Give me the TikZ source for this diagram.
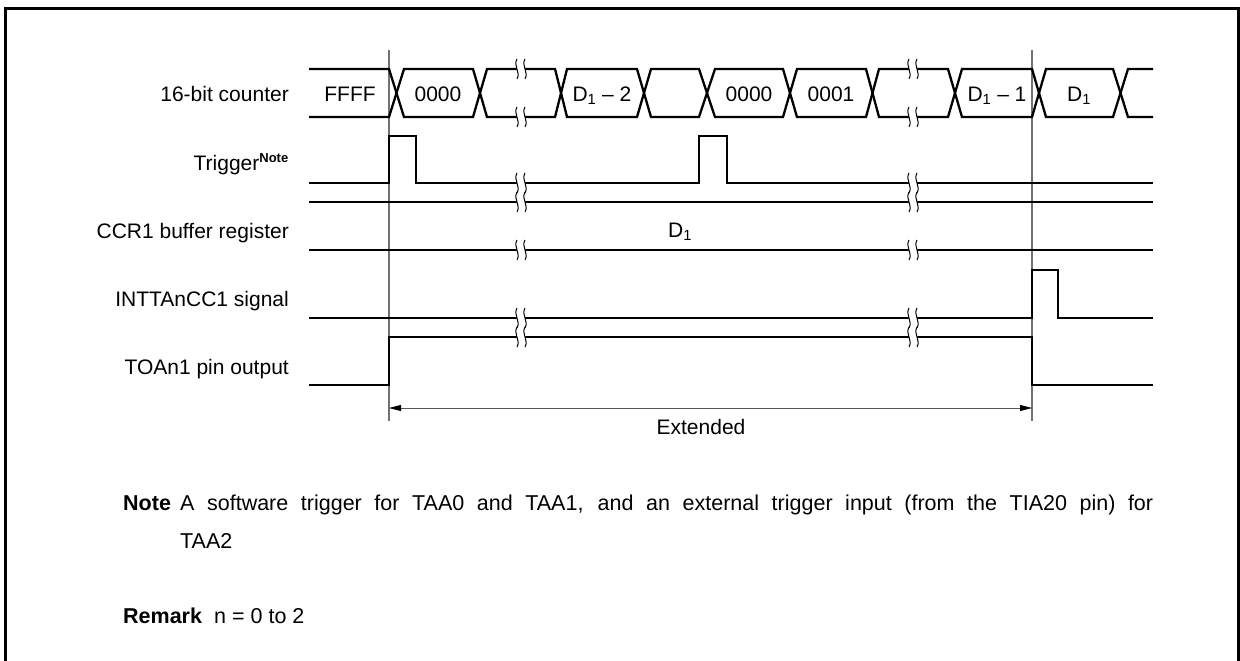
\documentclass[tikz,border=0pt]{standalone}
\usepackage{fontspec}
\setmainfont{Liberation Sans}
\usetikzlibrary{arrows.meta}
\tikzset{
  sig/.style={line width=2.3pt, line join=miter},
  guide/.style={draw=black!55, line width=1.1pt},
  lbl/.style={font=\fontsize{21}{25}\selectfont, inner sep=0pt},
  notetext/.style={font=\fontsize{21.5}{25}\selectfont, inner sep=0pt},
}
\newcommand\brkmark[2]{%
  \fill[white] (#1-4,#2-4) rectangle (#1+4,#2+4);
  \draw[line width=1pt] (#1-4,#2-10) .. controls (#1-8,#2-3) and (#1,#2+3) .. (#1-4,#2+10);
  \draw[line width=1pt] (#1+4,#2-10) .. controls (#1,#2-3) and (#1+8,#2+3) .. (#1+4,#2+10);
}
\begin{document}
\begin{tikzpicture}[x=1pt,y=1pt,yscale=-1]
        \useasboundingbox (0,0) rectangle (1240,661);
        \draw[line width=3pt] (5,661) -- (5,9) -- (1238,9) -- (1238,661);
        \coordinate (gA) at (389,50);
        \coordinate (gB) at (1032,50);
        \coordinate (gAe) at (389,421);
        \coordinate (gBe) at (1032,421);
        \draw[guide] (gA) -- (gAe);
        \draw[guide] (gB) -- (gBe);
        % 16-bit counter
        \draw[sig] (309,69) -- (389,69) -- (404,117) -- (473,117) -- (487,69) -- (555,69) -- (567,117) -- (637,117) -- (651,69) -- (699,69) -- (715,117) -- (783,117) -- (797,69) -- (866,69) -- (879,117) -- (948,117) -- (962,69) -- (1032,69) -- (1046,117) -- (1113,117) -- (1128,69) -- (1153,69);
        \draw[sig] (309,117) -- (389,117) -- (404,69) -- (473,69) -- (487,117) -- (555,117) -- (567,69) -- (637,69) -- (651,117) -- (699,117) -- (715,69) -- (783,69) -- (797,117) -- (866,117) -- (879,69) -- (948,69) -- (962,117) -- (1032,117) -- (1046,69) -- (1113,69) -- (1128,117) -- (1153,117);
        % trigger
        \draw[sig] (309,183) -- (389,183) -- (389,136) -- (416,136) -- (416,183) -- (699,183) -- (699,136) -- (727,136) -- (727,183) -- (1153,183);
        % CCR1 buffer register
        \draw[sig] (309,202) -- (1153,202);
        \draw[sig] (309,250) -- (1153,250);
        % INTTAnCC1
        \draw[sig] (309,318) -- (1032,318) -- (1032,270) -- (1058,270) -- (1058,318) -- (1153,318);
        % TOAn1
        \draw[sig] (309,385) -- (389,385) -- (389,337) -- (1032,337) -- (1032,385) -- (1153,385);
        \foreach \bx in {521,913} {
          \foreach \by in {69,117,183,202,250,318,337} {
            \brkmark{\bx}{\by}
          }
        }
        \coordinate (xA) at (389,408);
        \coordinate (xB) at (1032,408);
        \draw[guide, draw=black!65, line width=0.9pt, {Triangle[length=12pt,width=6pt,color=black]}-{Triangle[length=12pt,width=6pt,color=black]}] (xA) -- (xB);
        \node[lbl, anchor=base] (ext) at (701,434) {Extended};
        \node[lbl, anchor=base east] (lcnt) at (289,102) {16-bit counter};
        \node[lbl, anchor=base east] (ltrg) at (289,170) {Trigger\textsuperscript{\bfseries\fontsize{13}{15}\selectfont Note}};
        \node[lbl, anchor=base east] (lccr) at (289,238) {CCR1 buffer register};
        \node[lbl, anchor=base east] (lint) at (289,306) {INTTAnCC1 signal};
        \node[lbl, anchor=base east] (ltoa) at (289,374) {TOAn1 pin output};
        \node[lbl, anchor=base] (v1) at (350,101) {FFFF};
        \node[lbl, anchor=base] (v2) at (438,101) {0000};
        \node[lbl, anchor=base] (v3) at (602,101) {D\textsubscript{1} -- 2};
        \node[lbl, anchor=base] (v4) at (749,101) {0000};
        \node[lbl, anchor=base] (v5) at (831,101) {0001};
        \node[lbl, anchor=base] (v6) at (997,101) {D\textsubscript{1} -- 1};
        \node[lbl, anchor=base] (v7) at (1079,101) {D\textsubscript{1}};
        \node[lbl, anchor=base] (vccr) at (680,237) {D\textsubscript{1}};
        \node[notetext, anchor=base west] (nhead) at (123,510) {\bfseries Note};
        \node[notetext, anchor=base west] (nline) at (180,510) {\makebox[973pt][s]{A software trigger for TAA0 and TAA1, and an external trigger input (from the TIA20 pin) for}};
        \node[notetext, anchor=base west] (nline2) at (180,548) {TAA2};
        \node[notetext, anchor=base west] (rhead) at (123,623) {\bfseries Remark};
        \node[notetext, anchor=base west] (rtext) at (214,623) {n = 0 to 2};
\end{tikzpicture}
\end{document}
